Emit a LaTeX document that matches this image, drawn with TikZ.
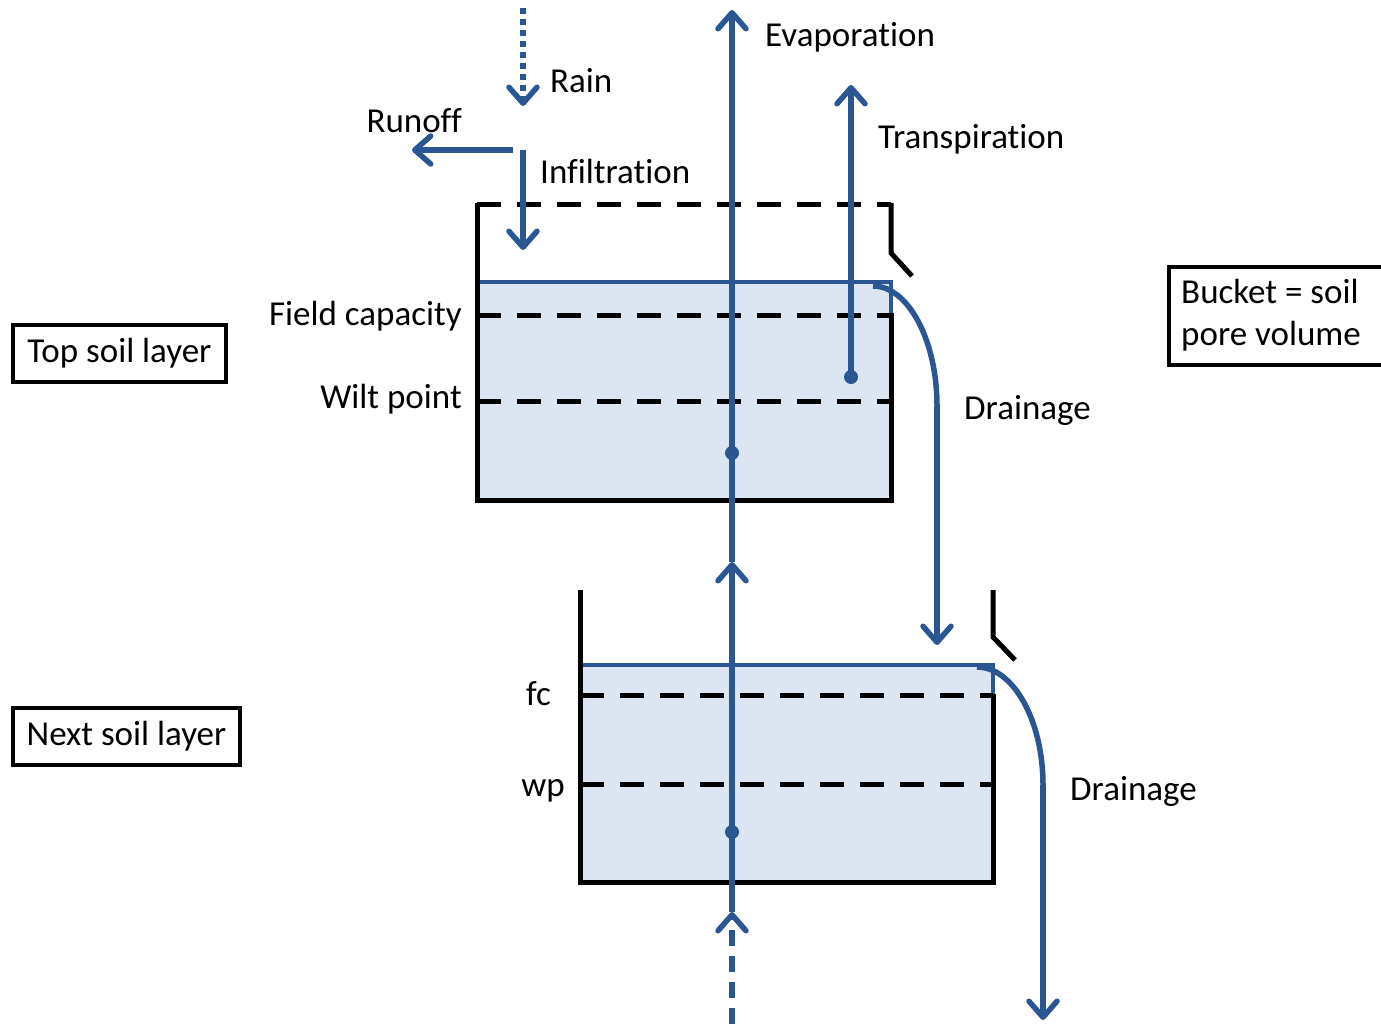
\documentclass[tikz,border=0pt]{standalone}
\usepackage{fontspec}
\setmainfont{Carlito}[Ligatures={NoCommon}]
\usetikzlibrary{arrows.meta}
\definecolor{flow}{RGB}{42,86,148}
\definecolor{water}{RGB}{220,230,242}
\tikzset{
  lbl/.style={inner sep=0pt, font=\fontsize{35}{42}\selectfont},
  box/.style={lbl, draw=black, line width=4pt},
  wall/.style={line width=5pt, draw=black},
  level/.style={line width=5pt, draw=black, dash pattern=on 24pt off 16pt},
  surface/.style={line width=3.5pt, draw=flow},
  flowline/.style={line width=5.5pt, draw=flow,
    -{Straight Barb[length=16pt,width=28pt,round]}},
  plainflow/.style={line width=5.5pt, draw=flow},
  rootdot/.style={circle, fill=flow, inner sep=0pt, minimum size=14pt},
}
\begin{document}
\begin{tikzpicture}[x=1pt,y=-1pt]
\clip (0,0) rectangle (1381,1024);

% ---------- top bucket ----------
\fill[water] (477,282) rectangle (891,500);
\draw[surface] (477,282) -- (891,282) -- (891,315);
\draw[level] (477,205) -- (891,205);
\draw[level] (477,315) -- (891,315);
\draw[level] (477,401) -- (891,401);
\draw[wall] (477,203) -- (477,500) -- (891,500) -- (891,313);
\draw[wall] (891,203) -- (891,253) -- (912,276);

% ---------- lower bucket ----------
\fill[water] (580,665) rectangle (993,882);
\draw[surface] (580,665) -- (993,665) -- (993,696);
\draw[level] (580,695) -- (993,695);
\draw[level] (580,784) -- (993,784);
\draw[wall] (580,590) -- (580,882) -- (993,882) -- (993,694);
\draw[wall] (993,590) -- (993,637) -- (1015,660);

% ---------- flow coordinates ----------
\coordinate (rainsrc) at (523,8);
\coordinate (raintip) at (523,106);
\coordinate (split) at (523,150);
\coordinate (runoffsrc) at (513,150);
\coordinate (runofftip) at (412,150);
\coordinate (infiltip) at (523,250);
\coordinate (capsrc) at (732,1024);
\coordinate (captip) at (732,912);
\coordinate (uptip) at (732,562);
\coordinate (evaptip) at (732,10);
\coordinate (transtip) at (851,85);
\coordinate (drainAsrc) at (873,286);
\coordinate (drainAbend) at (937,406);
\coordinate (drainAtip) at (937,645);
\coordinate (drainBsrc) at (977,667);
\coordinate (drainBbend) at (1043,785);
\coordinate (drainBtip) at (1043,1020);

\node[rootdot] (rootA) at (732,453) {};
\node[rootdot] (rootB) at (732,832) {};
\node[rootdot] (rootT) at (851,377) {};

% ---------- flows ----------
\draw[flowline, dash pattern=on 6pt off 5pt] (rainsrc) -- (raintip);
\draw[flowline] (runoffsrc) -- (runofftip);
\draw[flowline] (split) -- (infiltip);
\draw[flowline, dash pattern=on 16pt off 10pt] (capsrc) -- (captip);
\draw[flowline] (captip) -- (uptip);
\draw[plainflow] (uptip) -- (rootA.center);
\draw[flowline] (rootA.center) -- (evaptip);
\draw[flowline] (rootT.center) -- (transtip);
\draw[plainflow] (drainAsrc) .. controls (908,286) and (937,340) .. (drainAbend);
\draw[flowline] (drainAbend) -- (drainAtip);
\draw[plainflow] (drainBsrc) .. controls (1013,667) and (1043,720) .. (drainBbend);
\draw[flowline] (drainBbend) -- (drainBtip);

% ---------- labels ----------
\node[lbl, anchor=base west] (evap) at (765,47) {Evaporation};
\node[lbl, anchor=base west] (rain) at (550,93) {Rain};
\node[lbl, anchor=base east] (runoff) at (462,133) {Runoff};
\node[lbl, anchor=base west] (infil) at (540,184) {Infiltration};
\node[lbl, anchor=base west] (trans) at (878,149) {Transpiration};
\node[lbl, anchor=base east] (fieldcap) at (462,325) {Field capacity};
\node[lbl, anchor=base east] (wilt) at (462,408) {Wilt point};
\node[lbl, anchor=base west] (drainA) at (964,419) {Drainage};
\node[lbl, anchor=base east] (fc) at (551,705) {fc};
\node[lbl, anchor=base east] (wp) at (565,796) {wp};
\node[lbl, anchor=base west] (drainB) at (1070,800) {Drainage};

\node[box, minimum width=213pt, minimum height=57pt] (toplayer) at (119.5,353.5) {Top soil layer};
\node[box, minimum width=227pt, minimum height=57pt] (nextlayer) at (126.5,736.5) {Next soil layer};
\node[box, anchor=north west, minimum width=230pt, minimum height=98pt] (bucket) at (1167,265) {};
\node[lbl, anchor=base west] (bucketA) at (1181,303) {Bucket = soil};
\node[lbl, anchor=base west] (bucketB) at (1181,345) {pore volume};
\end{tikzpicture}
\end{document}
